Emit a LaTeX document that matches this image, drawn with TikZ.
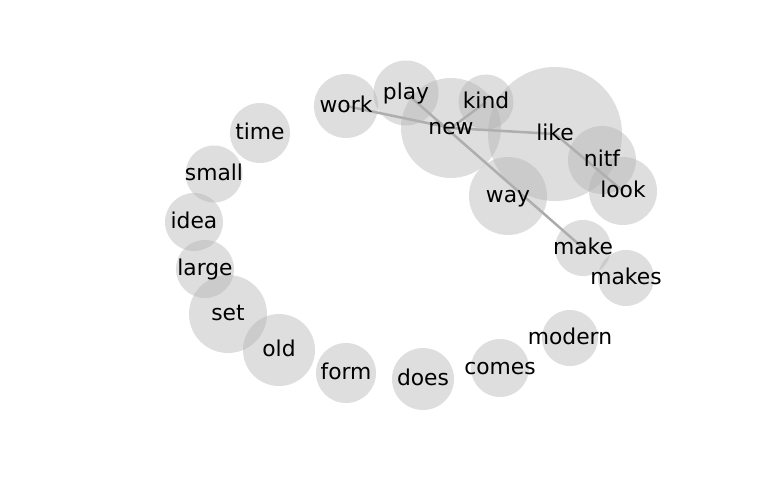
\documentclass[tikz,border=0pt]{standalone}
\usepackage{fontspec}
\setmainfont{DejaVu Sans}
\usetikzlibrary{backgrounds}

\pgfdeclarelayer{bubbles}
\pgfsetlayers{background,bubbles,main}

\tikzset{
  word/.style={inner sep=0pt, text height=1.3em, text depth=0pt, font=\fontsize{21.8}{26}\selectfont},
  bubble/.style={fill=black!30, fill opacity=0.43},
  link/.style={draw=black!33, line width=2.5pt}
}

\begin{document}
\begin{tikzpicture}[x=1pt, y=-1pt]
        \useasboundingbox (0, 0) rectangle (768, 500);
        % Nodes
        \node (work) [word] at (346, 106) {work};
        \node (play) [word] at (406, 93) {play};
        \node (new) [word] at (451, 128) {new};
        \node (kind) [word] at (486, 102) {kind};
        \node (like) [word] at (555, 134) {like};
        \node (nitf) [word] at (602, 160) {nitf};
        \node (look) [word] at (623, 191) {look};
        \node (way) [word] at (508, 196) {way};
        \node (make) [word] at (583, 248) {make};
        \node (makes) [word] at (626, 278) {makes};
        \node (time) [word] at (260, 133) {time};
        \node (small) [word] at (214, 174) {small};
        \node (idea) [word] at (194, 222) {idea};
        \node (large) [word] at (205, 269) {large};
        \node (set) [word] at (228, 314) {set};
        \node (old) [word] at (279, 350) {old};
        \node (form) [word] at (346, 373) {form};
        \node (does) [word] at (423, 379) {does};
        \node (comes) [word] at (500, 368) {comes};
        \node (modern) [word] at (570, 338) {modern};
        % Bubbles
        \begin{pgfonlayer}{bubbles}
        \fill[bubble] (work.center) circle (32);
        \fill[bubble] (play.center) circle (32.5);
        \fill[bubble] (new.center) circle (50);
        \fill[bubble] (kind.center) circle (27.5);
        \fill[bubble] (like.center) circle (67);
        \fill[bubble] (nitf.center) circle (34);
        \fill[bubble] (look.center) circle (34);
        \fill[bubble] (way.center) circle (39);
        \fill[bubble] (make.center) circle (28);
        \fill[bubble] (makes.center) circle (28);
        \fill[bubble] (time.center) circle (30);
        \fill[bubble] (small.center) circle (28.5);
        \fill[bubble] (idea.center) circle (29);
        \fill[bubble] (large.center) circle (29);
        \fill[bubble] (set.center) circle (39);
        \fill[bubble] (old.center) circle (36);
        \fill[bubble] (form.center) circle (30);
        \fill[bubble] (does.center) circle (31);
        \fill[bubble] (comes.center) circle (29);
        \fill[bubble] (modern.center) circle (28);
        \end{pgfonlayer}
        % Links
        \begin{scope}[on background layer]
        \draw[link] (work.center) -- (new.center);
        \draw[link] (play.center) -- (make.center);
        \draw[link] (kind.center) -- (new.center);
        \draw[link] (new.center) -- (like.center);
        \draw[link] (like.center) -- (look.center);
        \end{scope}
      \end{tikzpicture}
\end{document}
